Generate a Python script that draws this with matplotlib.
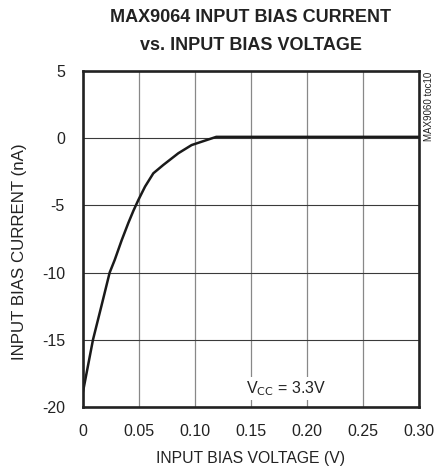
import matplotlib
matplotlib.use("Agg")
import matplotlib.pyplot as plt
from matplotlib import font_manager

names = {f.name for f in font_manager.fontManager.ttflist}
fam = "Liberation Sans Narrow" if "Liberation Sans Narrow" in names else "Liberation Sans"
plt.rcParams['font.family'] = [fam, 'DejaVu Sans']
plt.rcParams['axes.unicode_minus'] = False

voltage = [0.0, 0.0089, 0.0164, 0.0238, 0.0283, 0.0345, 0.0405, 0.045, 0.0494, 0.0554,
           0.0628, 0.0717, 0.0851, 0.097, 0.106, 0.119, 0.15, 0.20, 0.25, 0.30]
current = [-18.86, -15.0, -12.5, -10.0, -9.06, -7.6, -6.3, -5.4, -4.6, -3.6,
           -2.61, -1.99, -1.12, -0.51, -0.26, 0.1, 0.1, 0.1, 0.1, 0.1]
xticks = [0, 0.05, 0.10, 0.15, 0.20, 0.25, 0.30]
xticklabels = ["0", "0.05", "0.10", "0.15", "0.20", "0.25", "0.30"]
yticks = [5, 0, -5, -10, -15, -20]

W, H = 435, 471
fig = plt.figure(figsize=(W / 100, H / 100), dpi=100)
left, right, top, bottom = 83, 419, 71, 407
ax = fig.add_axes([left / W, 1 - bottom / H, (right - left) / W, (bottom - top) / H])
ax.plot(voltage, current, color='#1a1a1a', lw=1.8, solid_joinstyle='round')
ax.set_xlim(0, 0.30)
ax.set_ylim(-20, 5)
ax.set_xticks(xticks)
ax.set_xticklabels(xticklabels)
ax.set_yticks(yticks)
ax.grid(True, axis='x', color='#888888', lw=0.9)
ax.grid(True, axis='y', color='#3a3a3a', lw=0.8)
ax.tick_params(length=0, labelsize=11.5, colors='#222222')
ax.tick_params(axis='x', pad=12)
ax.tick_params(axis='y', pad=13)
for s in ax.spines.values():
    s.set_linewidth(1.9)
    s.set_color('#222222')
ax.set_xlabel("INPUT BIAS VOLTAGE (V)", fontsize=11.3, labelpad=9, color='#222222')
ax.set_ylabel("INPUT BIAS CURRENT (nA)", fontsize=12.2, color='#222222',
              va='center', ha='center')
ax.yaxis.set_label_coords((19 - left) / (right - left), (bottom - 252) / (bottom - top))
fig.text(251 / W, 1 - 18 / H, "MAX9064 INPUT BIAS CURRENT",
         ha='center', va='center', fontsize=13, fontweight='bold', color='#222222')
fig.text(251 / W, 1 - 45 / H, "vs. INPUT BIAS VOLTAGE",
         ha='center', va='center', fontsize=13, fontweight='bold', color='#222222')
ax.text(0.181, -18.6, r"V$_{\rm CC}$ = 3.3V", fontsize=11.5, ha='center', va='center',
        color='#222222', bbox=dict(facecolor='white', edgecolor='none', pad=1.5))
fig.text(429 / W, 1 - 106 / H, "MAX9060 toc10", rotation=90, fontsize=7, ha='center',
         va='center', color='#222222')
fig.savefig("out.png", dpi=100)
